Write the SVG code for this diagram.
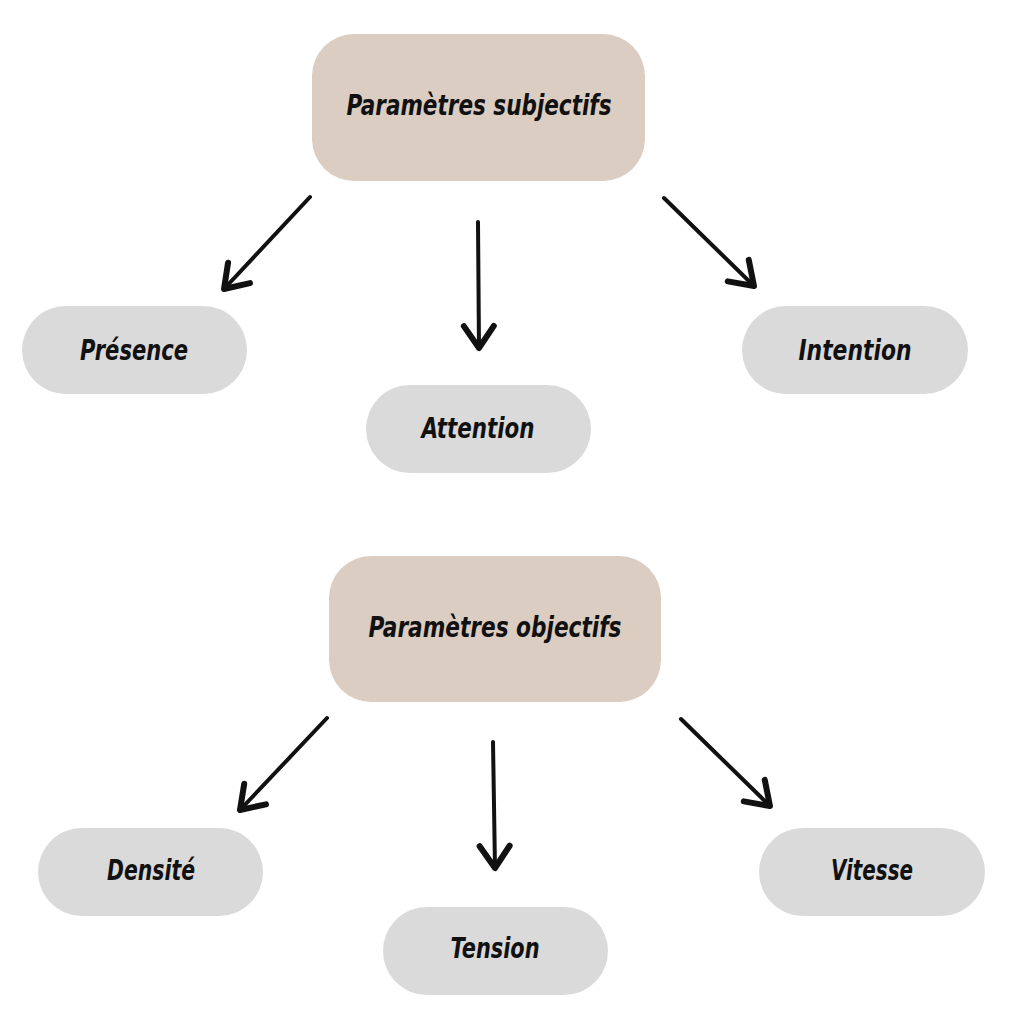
<svg xmlns="http://www.w3.org/2000/svg" width="1024" height="1023" viewBox="0 0 1024 1023">
<style>
.main{fill:#dbcdc1}
.leaf{fill:#dadada}
text{font-family:"DejaVu Sans Condensed","DejaVu Sans",sans-serif;font-stretch:condensed;font-weight:bold;font-style:italic;fill:#111;text-anchor:middle;dominant-baseline:central}
.t1{font-size:29px}
.t2{font-size:28px}
.arr{stroke:#111;stroke-width:4;stroke-linecap:round;fill:none;marker-end:url(#head)}
</style>
<defs>
<marker id="head" markerUnits="userSpaceOnUse" markerWidth="40" markerHeight="40" viewBox="-30 -20 40 40" refX="0" refY="0" orient="auto">
<path d="M -22,-15 L 0,0 L -22,15" fill="none" stroke="#111" stroke-width="6" stroke-linecap="round" stroke-linejoin="round"/>
</marker>
</defs>
<rect width="1024" height="1023" fill="#fff"/>
<g id="connectors">
<line class="arr" x1="310" y1="197" x2="224" y2="289"/>
<line class="arr" x1="478" y1="222" x2="479" y2="348"/>
<line class="arr" x1="664" y1="198" x2="754" y2="286"/>
<line class="arr" x1="327" y1="718" x2="240" y2="810"/>
<line class="arr" x1="493" y1="742" x2="495" y2="868"/>
<line class="arr" x1="681" y1="719" x2="770" y2="806"/>
</g>
<g id="subjectifs">
<rect class="main" x="312" y="34" width="333" height="147" rx="42"/>
<text class="t1" x="479" y="105" textLength="265" lengthAdjust="spacingAndGlyphs">Paramètres subjectifs</text>
</g>
<g id="presence">
<rect class="leaf" x="22" y="306" width="225" height="88" rx="44"/>
<text class="t2" x="134" y="350" textLength="108" lengthAdjust="spacingAndGlyphs">Présence</text>
</g>
<g id="attention">
<rect class="leaf" x="366" y="385" width="225" height="88" rx="44"/>
<text class="t2" x="478" y="428" textLength="113" lengthAdjust="spacingAndGlyphs">Attention</text>
</g>
<g id="intention">
<rect class="leaf" x="742" y="306" width="226" height="88" rx="44"/>
<text class="t2" x="855" y="350" textLength="113" lengthAdjust="spacingAndGlyphs">Intention</text>
</g>
<g id="objectifs">
<rect class="main" x="329" y="556" width="332" height="146" rx="42"/>
<text class="t1" x="495" y="627" textLength="253" lengthAdjust="spacingAndGlyphs">Paramètres objectifs</text>
</g>
<g id="densite">
<rect class="leaf" x="38" y="828" width="225" height="88" rx="44"/>
<text class="t2" x="151" y="870" textLength="88" lengthAdjust="spacingAndGlyphs">Densité</text>
</g>
<g id="tension">
<rect class="leaf" x="383" y="907" width="225" height="88" rx="44"/>
<text class="t2" x="495" y="948" textLength="89" lengthAdjust="spacingAndGlyphs">Tension</text>
</g>
<g id="vitesse">
<rect class="leaf" x="759" y="828" width="226" height="88" rx="44"/>
<text class="t2" x="872" y="870" textLength="82" lengthAdjust="spacingAndGlyphs">Vitesse</text>
</g>
</svg>
